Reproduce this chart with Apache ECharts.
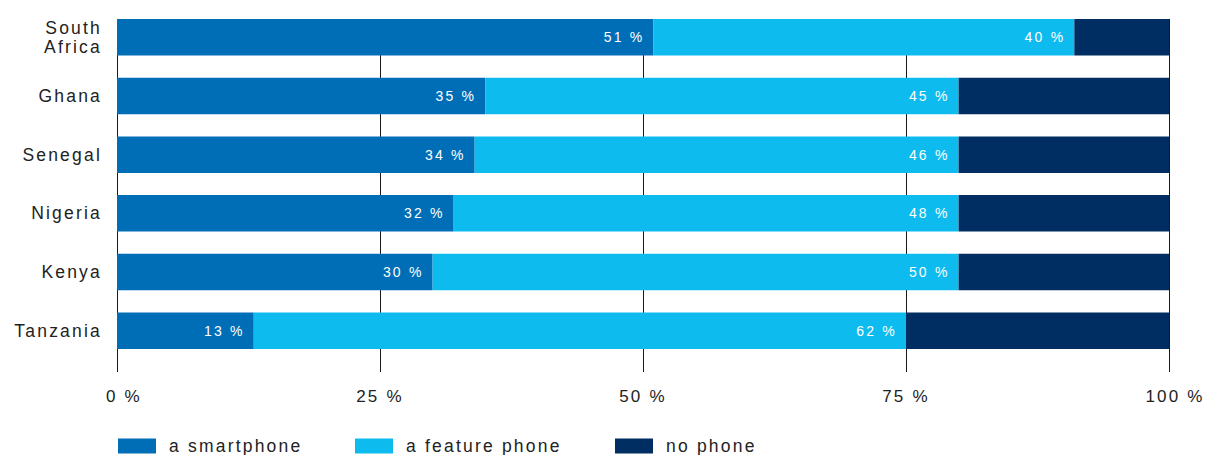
<!DOCTYPE html>
<html><head><meta charset="utf-8">
<script src="https://cdn.jsdelivr.net/npm/echarts@6/dist/echarts.min.js"></script>
<style>
html,body{margin:0;padding:0;background:#fff;}
#chart{width:1207px;height:455px;}
#chart text{letter-spacing:2.2px;}
</style></head>
<body><div id="chart"></div>
<script>
const categories = ['South\nAfrica', 'Ghana', 'Senegal', 'Nigeria', 'Kenya', 'Tanzania'];
const smartphone = [51, 35, 34, 32, 30, 13];
const featurePhone = [40, 45, 46, 48, 50, 62];
const noPhone = [9, 20, 20, 20, 20, 25];
const seriesNames = ['a smartphone', 'a feature phone', 'no phone'];
const xTicks = [0, 25, 50, 75, 100];

const colors = ['#006EB6', '#0DBBEE', '#002E62'];
const textColor = '#222';
const font = '"Liberation Sans", Arial, sans-serif';

const chart = echarts.init(document.getElementById('chart'), null, {renderer: 'svg'});

const labelCfg = {
  show: true, position: 'insideRight', distance: 9, color: '#fff',
  fontSize: 14, fontFamily: font, formatter: p => p.value + ' %'
};

const legendLefts = [118, 355, 615];

chart.setOption({
  animation: false,
  textStyle: {fontFamily: font},
  grid: [
    {left: 117, right: 38, top: 8, bottom: 95},
    {left: 117, right: 38, top: 19, bottom: 83}
  ],
  xAxis: [
    {gridIndex: 0, type: 'value', min: 0, max: 100, show: false},
    {gridIndex: 1, type: 'value', min: xTicks[0], max: xTicks[xTicks.length - 1], interval: 25,
      axisLine: {show: false}, axisTick: {show: false},
      splitLine: {show: true, lineStyle: {color: '#1a1a1a', width: 1}},
      axisLabel: {color: textColor, fontSize: 17, margin: 16, fontFamily: font,
        formatter: v => v === xTicks[0] ? '{first|' + v + ' %}' : (v === xTicks[xTicks.length - 1] ? '{last|' + v + ' %}' : v + ' %'),
        rich: {
          first: {fontSize: 17, color: textColor, fontFamily: font, padding: [0, 0, 0, 14]},
          last: {fontSize: 17, color: textColor, fontFamily: font, padding: [0, 0, 0, 12]}
        }}}
  ],
  yAxis: [
    {gridIndex: 0, type: 'category', data: categories, inverse: true,
      axisLine: {show: false}, axisTick: {show: false}, splitLine: {show: false},
      axisLabel: {color: textColor, fontSize: 17.5, margin: 15, lineHeight: 19, fontFamily: font}},
    {gridIndex: 1, type: 'value', min: 0, max: 1, show: false}
  ],
  legend: seriesNames.map((n, i) => ({
    data: [n], left: legendLefts[i], top: 437, itemWidth: 38, itemHeight: 15, itemGap: 0,
    icon: 'rect', textStyle: {color: textColor, fontSize: 17.5, padding: [0, 0, 0, 8], fontFamily: font},
    padding: 0, selectedMode: false
  })),
  series: [
    {name: seriesNames[0], type: 'bar', stack: 's', data: smartphone, barWidth: 36.5,
      itemStyle: {color: colors[0]}, label: labelCfg, z: 3},
    {name: seriesNames[1], type: 'bar', stack: 's', data: featurePhone, barWidth: 36.5,
      itemStyle: {color: colors[1]}, label: labelCfg, z: 3},
    {name: seriesNames[2], type: 'bar', stack: 's', data: noPhone, barWidth: 36.5,
      itemStyle: {color: colors[2]}, label: {show: false}, z: 3}
  ]
});
</script></body></html>
